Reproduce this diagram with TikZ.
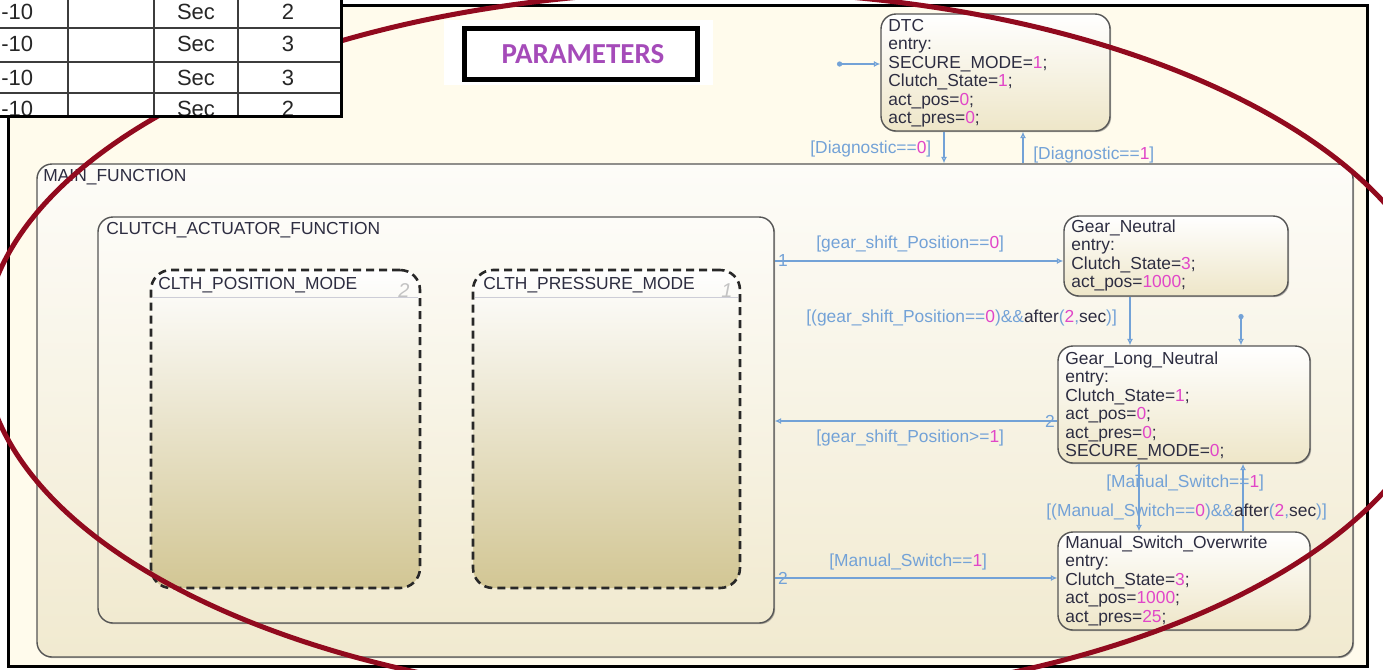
\documentclass[tikz,border=0pt]{standalone}
\usepackage{fontspec}
\setmainfont{Liberation Sans}
\newfontfamily\paramfont{Carlito}
\usetikzlibrary{fit,arrows.meta,shadows}

\definecolor{framefill}{RGB}{255,251,236}
\definecolor{supertop}{RGB}{253,252,248}
\definecolor{superbot}{RGB}{241,234,208}
\definecolor{statebot}{RGB}{238,230,200}
\definecolor{modebot}{RGB}{210,198,148}
\definecolor{boxline}{RGB}{85,85,85}
\definecolor{dashline}{RGB}{40,40,40}
\definecolor{txt}{RGB}{45,45,65}
\definecolor{trc}{RGB}{115,162,215}
\definecolor{numc}{RGB}{225,70,200}
\definecolor{paramc}{RGB}{165,75,185}
\definecolor{ellc}{RGB}{145,10,30}
\definecolor{hdr}{RGB}{205,205,215}
\definecolor{gnum}{RGB}{195,195,195}
\definecolor{gridc}{RGB}{60,60,60}

% numbers inside actions and guards
\newcommand{\nv}[1]{\textcolor{numc}{#1}}
% dark keywords inside guards
\newcommand{\kw}[1]{\textcolor{txt}{#1}}
% strut fixing the top of the first text line
\newcommand{\firstln}{\rule{0pt}{7pt}}

\tikzset{
  box/.style={draw=boxline, line width=0.7pt, rounded corners=7.5pt, inner sep=0pt,
    drop shadow={shadow xshift=0.6pt, shadow yshift=-0.6pt, opacity=0.4, fill=black!70}},
  statebox/.style={box, top color=white, bottom color=statebot},
  superbox/.style={box, top color=supertop, bottom color=superbot},
  modebox/.style={draw=dashline, line width=1.3pt, dash pattern=on 4pt off 2.5pt,
    rounded corners=10pt, top color=white, bottom color=modebot, inner sep=0pt},
  stxt/.style={font=\fontsize{8.7}{9.25}\selectfont, text=txt, inner sep=0pt,
    align=left, anchor=north west},
  lbl/.style={font=\fontsize{8.7}{9.25}\selectfont, text=txt, inner sep=0pt, anchor=base west},
  tlabel/.style={font=\fontsize{8.7}{9.25}\selectfont, text=trc, inner sep=0pt, anchor=base west},
  tnum/.style={font=\fontsize{8.7}{9.25}\selectfont, text=trc, inner sep=0.4pt},
  gnumber/.style={font=\fontsize{10}{11}\selectfont\itshape, text=gnum, inner sep=0pt},
  trans/.style={draw=trc, line width=0.6pt, -{Latex[open,length=3.2pt,width=3pt]}},
  deftrans/.style={trans, {Circle[length=2.6pt,fill=trc]}-{Latex[open,length=3.2pt,width=3pt]}},
  tcell/.style={font=\fontsize{11}{12}\selectfont, text=black!85, inner sep=0pt, anchor=base},
}

\begin{document}
\begin{tikzpicture}[x=0.5pt,y=-0.5pt]
\useasboundingbox (0,0) rectangle (1383,670);

% chart canvas
\draw[line width=1.5pt, fill=framefill] (8,5) rectangle (1367,666);

% parameters button
\fill[white] (444,20) rectangle (713,85);
\node[draw=black, line width=2.5pt, fill=white, inner sep=0pt, fit={(464,28) (697,79)}] (parbox) {};
\node[font=\paramfont\bfseries\fontsize{14.5}{16}\selectfont, text=paramc, inner sep=0pt]
  (partxt) at (583,54) {PARAMETERS};

% superstates
\node[superbox, fit={(37,164) (1353,657)}] (main) {};
\node[lbl] (mainlbl) at (43,181) {MAIN\_FUNCTION};
\node[superbox, fit={(98,217) (774,623)}] (clutch) {};
\node[lbl] (clutchlbl) at (106,234) {CLUTCH\_ACTUATOR\_FUNCTION};

% parallel substates
\node[modebox, fit={(151,270) (420,588)}] (posmode) {};
\draw[hdr, line width=0.5pt] (153,297) -- (418,297);
\node[lbl] (poslbl) at (158,289) {CLTH\_POSITION\_MODE};
\node[gnumber] (posnum) at (404,291) {2};

\node[modebox, fit={(473,270) (740,588)}] (presmode) {};
\draw[hdr, line width=0.5pt] (475,297) -- (738,297);
\node[lbl] (preslbl) at (483,289) {CLTH\_PRESSURE\_MODE};
\node[gnumber] (presnum) at (727,291) {1};

% states
\node[statebox, fit={(881,14) (1110,131)}] (dtc) {};
\node[stxt] (dtctxt) at (888,17) {\firstln DTC\\entry:\\SECURE\_MODE=\nv{1};\\Clutch\_State=\nv{1};\\act\_pos=\nv{0};\\act\_pres=\nv{0};};

\node[statebox, fit={(1064,216) (1288,296)}] (gn) {};
\node[stxt] (gntxt) at (1071,218) {\firstln Gear\_Neutral\\entry:\\Clutch\_State=\nv{3};\\act\_pos=\nv{1000};};

\node[statebox, fit={(1058,346) (1310,463)}] (gln) {};
\node[stxt] (glntxt) at (1065,350) {\firstln Gear\_Long\_Neutral\\entry:\\Clutch\_State=\nv{1};\\act\_pos=\nv{0};\\act\_pres=\nv{0};\\SECURE\_MODE=\nv{0};};

\node[statebox, fit={(1058,532) (1310,630)}] (mso) {};
\node[stxt] (msotxt) at (1065,534) {\firstln Manual\_Switch\_Overwrite\\entry:\\Clutch\_State=\nv{3};\\act\_pos=\nv{1000};\\act\_pres=\nv{25};};

% reference lines for the transitions
\coordinate (x944) at (944,0);
\coordinate (x1023) at (1023,0);
\coordinate (x1130) at (1130,0);
\coordinate (x1139) at (1139,0);
\coordinate (x1243) at (1243,0);
\coordinate (y261) at (0,261);
\coordinate (y421) at (0,421);
\coordinate (y578) at (0,578);
\coordinate (dflt) at (837,64);
\coordinate (jn) at (1241,314);

% transitions
\draw[deftrans] (dflt) -- (dflt -| dtc.west);
\draw[trans] (x944 |- dtc.south) -- (x944 |- main.north);
\draw[trans] (x1023 |- main.north) -- (x1023 |- dtc.south);
\draw[trans] (clutch.east |- y261) -- (gn.west |- y261);
\draw[trans] (x1130 |- gn.south) -- (x1130 |- gln.north);
\draw[deftrans] (jn) -- (jn |- gln.north);
\draw[trans] (gln.west |- y421) -- (clutch.east |- y421);
\draw[trans] (x1139 |- gln.south) -- (x1139 |- mso.north);
\draw[trans] (x1243 |- mso.north) -- (x1243 |- gln.south);
\draw[trans] (clutch.east |- y578) -- (mso.west |- y578);

% execution order numbers
\node[tnum] (o1) at (783,261) {1};
\node[tnum] (o2) at (1050,421) {2};
\node[tnum] (o3) at (1139,471) {1};
\node[tnum] (o4) at (783,578) {2};

% guards
\node[tlabel] (g1) at (810,153) {[Diagnostic==\nv{0}]};
\node[tlabel] (g2) at (1033,159) {[Diagnostic==\nv{1}]};
\node[tlabel] (g3) at (816,248) {[gear\_shift\_Position==\nv{0}]};
\node[tlabel] (g4) at (806,322) {[(gear\_shift\_Position==\nv{0})\&\&\kw{after}(\nv{2},\kw{sec})]};
\node[tlabel] (g5) at (816,442) {[gear\_shift\_Position>=\nv{1}]};
\node[tlabel] (g6) at (1106,487) {[Manual\_Switch==\nv{1}]};
\node[tlabel] (g7) at (1046,516) {[(Manual\_Switch==\nv{0})\&\&\kw{after}(\nv{2},\kw{sec})]};
\node[tlabel] (g8) at (829,566) {[Manual\_Switch==\nv{1}]};

% hand-drawn highlight ring
\begin{scope}
  \clip (0,0) rectangle (1383,670);
  \draw[ellc, line width=2.5pt] (715,347) ellipse [x radius=366pt, y radius=178pt];
\end{scope}

% timing table corner
\fill[white] (0,0) rectangle (341,116);
\begin{scope}
  \clip (0,0) rectangle (341,116);
  \draw[gridc, line width=0.75pt]
    (0,28) -- (341,28) (0,62) -- (341,62) (0,93) -- (341,93)
    (68,0) -- (68,116) (154,0) -- (154,116) (238,0) -- (238,116);
  \node[tcell, anchor=base west] (a1) at (1,19) {-10};
  \node[tcell, anchor=base west] (a2) at (1,51) {-10};
  \node[tcell, anchor=base west] (a3) at (1,85) {-10};
  \node[tcell, anchor=base west] (a4) at (1,116) {-10};
  \node[tcell] (b1) at (196,19) {Sec};
  \node[tcell] (b2) at (196,51) {Sec};
  \node[tcell] (b3) at (196,85) {Sec};
  \node[tcell] (b4) at (196,116) {Sec};
  \node[tcell] (c1) at (288,19) {2};
  \node[tcell] (c2) at (288,51) {3};
  \node[tcell] (c3) at (288,85) {3};
  \node[tcell] (c4) at (288,116) {2};
\end{scope}
\draw[black, line width=1.5pt] (341,0) -- (341,116) -- (0,116);
\end{tikzpicture}
\end{document}
